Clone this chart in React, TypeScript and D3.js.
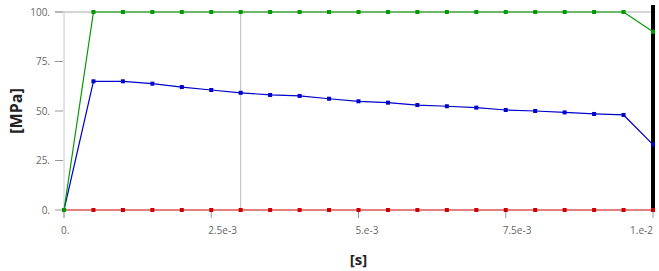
import React from "react";
import * as d3 from "d3";

const times = d3.range(21).map((i) => i * 0.0005);
const greenValues = [0, 100, 100, 100, 100, 100, 100, 100, 100, 100, 100, 100, 100, 100, 100, 100, 100, 100, 100, 100, 90];
const blueValues = [0, 65.0, 65.0, 63.8, 62.1, 60.6, 59.2, 58.1, 57.6, 56.2, 54.9, 54.2, 53.0, 52.4, 51.7, 50.5, 50.0, 49.3, 48.5, 48.0, 33.0];
const redValues = [0, 0, 0, 0, 0, 0, 0, 0, 0, 0, 0, 0, 0, 0, 0, 0, 0, 0, 0, 0, 0];
const yTicks = [0, 25, 50, 75, 100];
const yTickLabels = ["0.", "25.", "50.", "75.", "100."];
const xTicks = [0, 0.0025, 0.005, 0.0075, 0.01];
const xTickLabels = ["0.", "2.5e-3", "5.e-3", "7.5e-3", "1.e-2"];
const cursorTime = 0.003;

export default function App() {
  const W = 659, H = 271;
  const x = d3.scaleLinear().domain([0, 0.01]).range([64, 653]);
  const y = d3.scaleLinear().domain([0, 100]).range([210, 12]);
  const line = d3
    .line<[number, number]>()
    .x((d) => x(d[0]))
    .y((d) => y(d[1]));
  const series = [
    { vals: redValues, color: "#cc0000" },
    { vals: blueValues, color: "#0000cc" },
    { vals: greenValues, color: "#009900" },
  ];
  const font = "'Open Sans', 'DejaVu Sans', sans-serif";
  return (
    <svg width={W} height={H} style={{ position: "absolute", left: 0, top: 0, background: "#fff" }}>
      <rect x={0} y={0} width={W} height={H} fill="#fff" />
      {/* top frame line */}
      <line x1={55} x2={653} y1={y(100)} y2={y(100)} stroke="#aaa" strokeWidth={1} />
      {/* y axis line */}
      <line x1={64} x2={64} y1={y(100)} y2={218} stroke="#c8c8c8" strokeWidth={1} />
      {/* cursor line */}
      <line x1={x(cursorTime)} x2={x(cursorTime)} y1={y(100)} y2={y(0)} stroke="#bbb" strokeWidth={1} />
      {yTicks.map((t, i) => (
        <g key={"y" + i}>
          <line x1={55} x2={63} y1={y(t)} y2={y(t)} stroke="#999" strokeWidth={1} />
          <text x={50} y={y(t)} dy="0.35em" textAnchor="end" fontSize={10} fill="#666" fontFamily={font}>
            {yTickLabels[i]}
          </text>
        </g>
      ))}
      {xTicks.map((t, i) => (
        <g key={"x" + i}>
          <line x1={x(t)} x2={x(t)} y1={y(0)} y2={218} stroke="#999" strokeWidth={1} />
          <text
            x={i === xTicks.length - 1 ? x(t) : x(t) - 3}
            y={234}
            textAnchor={i === xTicks.length - 1 ? "end" : "start"}
            fontSize={10}
            fill="#666"
            fontFamily={font}
          >
            {xTickLabels[i]}
          </text>
        </g>
      ))}
      {/* end marker line */}
      <line x1={653} x2={653} y1={5} y2={y(0)} stroke="#000" strokeWidth={4} />
      {series.map((s, si) => {
        const pts = times.map((t, i) => [t, s.vals[i]] as [number, number]);
        return (
          <g key={"s" + si}>
            <path d={line(pts) || ""} fill="none" stroke={s.color} strokeWidth={1.2} />
            {pts.map((p, i) => (
              <rect key={i} x={x(p[0]) - 2} y={y(p[1]) - 2} width={4} height={4} fill={s.color} />
            ))}
          </g>
        );
      })}
      <text
        transform={`translate(22,${(y(0) + y(100)) / 2}) rotate(-90)`}
        textAnchor="middle"
        fontSize={16}
        fontWeight="bold"
        fill="#222"
        fontFamily={font}
      >
        [MPa]
      </text>
      <text x={(64 + 653) / 2} y={265} textAnchor="middle" fontSize={15} fontWeight="bold" fill="#222" fontFamily={font}>
        [s]
      </text>
    </svg>
  );
}
